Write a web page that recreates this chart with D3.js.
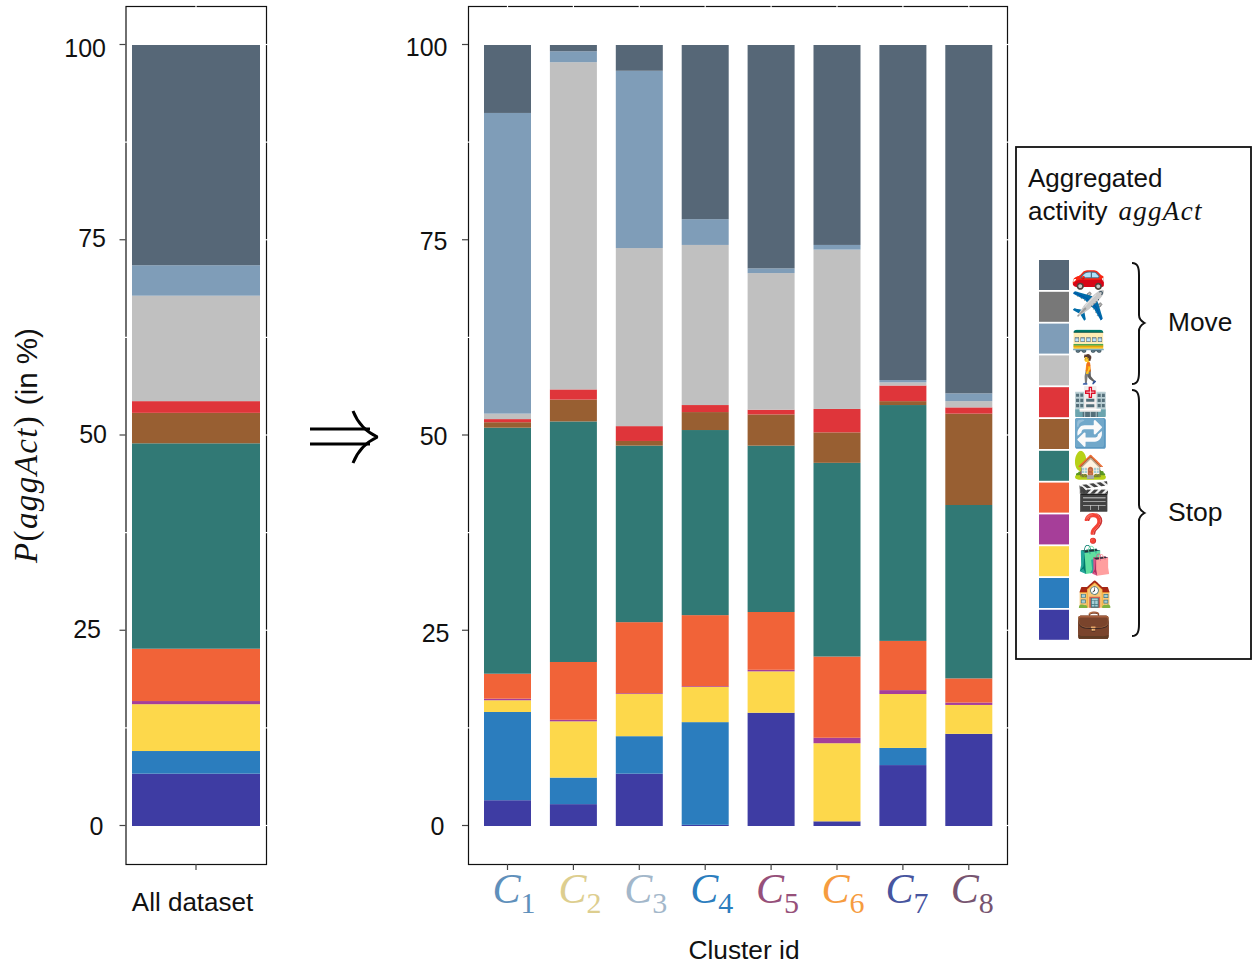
<!DOCTYPE html>
<html><head><meta charset="utf-8">
<script src="https://cdn.jsdelivr.net/npm/d3@7"></script>
<style>html,body{margin:0;padding:0;background:#fff}svg{display:block}</style>
</head><body><svg id="c" width="1253" height="969"></svg>
<script>
const activities=["work","school","shopping","unknown","leisure","home","other","health","walk","tram","plane","car"];
const colors=["#3E3CA3","#2B7DBE","#FDD84B","#A63E99","#F16338","#317975","#985F32","#DF353A","#C0C0C0","#7F9DB8","#787878","#566777"];
const emojis=["💼","🏫","🛍️","❓","🎬","🏡","🔁","🏥","🚶","🚃","✈️","🚗"];
const ticks=[0,25,50,75,100];
const minorTicks=[12.5,37.5,62.5,87.5];
const clusterIds=["1","2","3","4","5","6","7","8"];
const clusterColors=["#5F90BB","#DDCE8F","#A3B7CA","#2B7DBE","#96507A","#F69C3F","#47559F","#775470"];
// Cumulative share (%) at the top of each activity, bottom to top
const allDataset=[6.7,9.6,15.6,16.0,22.7,49.0,52.9,54.4,67.9,71.8,71.8,100];
const c1=[3.3,14.6,16.1,16.3,19.5,51.0,51.7,52.1,52.8,91.3,91.3,100];
const c2=[2.8,6.2,13.4,13.6,21.0,51.8,54.6,55.9,97.8,99.2,99.2,100];
const c3=[6.7,11.5,16.9,17.0,26.1,48.7,49.3,51.2,74.0,96.7,96.7,100];
const c4=[0.15,13.3,17.8,17.9,27.0,50.7,53.0,53.9,74.4,77.7,77.7,100];
const c5=[14.5,14.5,19.8,20.0,27.4,48.7,52.7,53.3,70.8,71.4,71.4,100];
const c6=[0.6,0.6,10.6,11.3,21.7,46.5,50.4,53.4,73.8,74.4,74.4,100];
const c7=[7.8,10.0,16.9,17.4,23.7,53.9,54.4,56.4,56.8,57.1,57.1,100];
const c8=[11.8,11.8,15.5,15.8,18.9,41.1,52.8,53.6,54.4,55.4,55.4,100];
const clusters=[c1,c2,c3,c4,c5,c6,c7,c8];

// layout of the tick labels, which sit slightly off the ticks in the reference
const leftLabelRight=[103.5,101,107,106,106], leftLabelBase=[835,638,443,247,57];
const rightLabelRight=[444.5,449.5,447.5,447.5,447.5], rightLabelBase=[835,641.5,445,250,56];
const clusterLabelDx=[-15,-15,-15,-15,-15,-15.5,-17.5,-18];
const emojiX=[1094,1095,1095,1094,1094,1091,1091,1091,1090,1089,1089,1089];

const svg=d3.select("#c");
const SANS="'Liberation Sans',Arial,sans-serif", MATH="'Liberation Serif',serif";

function stack(g,tops,x,w,y){
  let prev=0;
  tops.forEach((t,i)=>{
    if(t>prev) g.append("rect").attr("x",x).attr("width",w).attr("y",y(t)).attr("height",y(prev)-y(t)).attr("fill",colors[i]);
    prev=t;
  });
}
function frame(x0,x1,top,bottom,y,xTicks,labelRight,labelBase){
  svg.append("rect").attr("x",x0+.5).attr("y",top+.5).attr("width",x1-x0).attr("height",bottom-top).attr("fill","none").attr("stroke","#111").attr("stroke-width",1.2);
  ticks.forEach((t,i)=>{
    svg.append("line").attr("x1",x0-6).attr("x2",x0).attr("y1",y(t)-.5).attr("y2",y(t)-.5).attr("stroke","#444").attr("stroke-width",1.2);
    svg.append("line").attr("x1",x1-1).attr("x2",x1+2).attr("y1",y(t)-.5).attr("y2",y(t)-.5).attr("stroke","#fff").attr("stroke-width",1.2);
    svg.append("text").attr("x",labelRight[i]).attr("y",labelBase[i]).attr("text-anchor","end").attr("font-family",SANS).attr("font-size",25).attr("fill","#111").text(t);
  });
  minorTicks.forEach(t=>{
    [x0,x1].forEach(x=>svg.append("line").attr("x1",x-1).attr("x2",x+2).attr("y1",y(t)-.5).attr("y2",y(t)-.5).attr("stroke","#fff").attr("stroke-width",1.2));
  });
  xTicks.forEach(x=>{
    svg.append("line").attr("x1",x).attr("x2",x).attr("y1",bottom).attr("y2",bottom+6).attr("stroke","#444").attr("stroke-width",1.2);
    svg.append("line").attr("x1",x).attr("x2",x).attr("y1",top-1).attr("y2",top+2).attr("stroke","#fff").attr("stroke-width",1.2);
  });
}
const yL=d3.scaleLinear().domain([0,100]).range([826,45]);
const yR=d3.scaleLinear().domain([0,100]).range([826,45]);

// left panel
stack(svg.append("g"),allDataset,132,128,yL);
frame(125.5,266,6,864,yL,[196],leftLabelRight,leftLabelBase);
svg.append("text").attr("x",192.5).attr("y",911).attr("text-anchor","middle").attr("font-family",SANS).attr("font-size",26).attr("fill","#111").text("All dataset");

// right panel
const xB=d3.scaleBand().domain(clusterIds).range([484,992.3]).paddingInner(0.2868).paddingOuter(0);
clusters.forEach((c,i)=>stack(svg.append("g"),c,xB(clusterIds[i]),xB.bandwidth(),yR));
frame(468,1007,6,864,yR,clusterIds.map(d=>xB(d)+xB.bandwidth()/2),rightLabelRight,rightLabelBase);
clusterIds.forEach((d,i)=>{
  const cx=xB(d)+xB.bandwidth()/2;
  const t=svg.append("text").attr("x",cx+clusterLabelDx[i]).attr("y",903).attr("font-family",MATH).attr("fill",clusterColors[i]);
  t.append("tspan").attr("font-style","italic").attr("font-size",42).text("C");
  t.append("tspan").attr("font-size",30).attr("dy",10).text(d);
});
svg.append("text").attr("x",744).attr("y",959).attr("text-anchor","middle").attr("font-family",SANS).attr("font-size",26.3).attr("fill","#111").text("Cluster id");

// y title
const yt=svg.append("text").attr("transform","translate(37,563) rotate(-90)").attr("fill","#111").attr("font-size",33);
yt.append("tspan").attr("font-family",MATH).attr("font-style","italic").attr("letter-spacing",1.4).text("P");
yt.append("tspan").attr("font-family",MATH).attr("letter-spacing",1.4).text("(");
yt.append("tspan").attr("font-family",MATH).attr("font-style","italic").attr("letter-spacing",1.4).text("aggAct");
yt.append("tspan").attr("font-family",MATH).text(")");
yt.append("tspan").attr("font-family",SANS).attr("font-size",29.5).attr("dx",11).text("(in %)");

// implies arrow
const ar=svg.append("g").attr("fill","none").attr("stroke","#000").attr("stroke-width",3);
ar.append("line").attr("x1",310).attr("x2",370).attr("y1",429).attr("y2",429);
ar.append("line").attr("x1",310).attr("x2",370).attr("y1",444).attr("y2",444);
ar.append("path").attr("stroke-linejoin","bevel").attr("d","M353,411 Q360,429 377.5,437 Q360,445 353,463");

// legend
svg.append("rect").attr("x",1016).attr("y",147).attr("width",235).attr("height",512).attr("fill","#fff").attr("stroke","#111").attr("stroke-width",1.8);
svg.append("text").attr("x",1028).attr("y",187).attr("font-family",SANS).attr("font-size",26).attr("fill","#111").text("Aggregated");
const l2=svg.append("text").attr("x",1028).attr("y",220).attr("fill","#111");
l2.append("tspan").attr("font-family",SANS).attr("font-size",26).text("activity");
l2.append("tspan").attr("font-family",MATH).attr("font-style","italic").attr("font-size",27).attr("dx",11).attr("letter-spacing",1.3).text("aggAct");
activities.slice().reverse().forEach((a,k)=>{
  const i=11-k, ly=260+k*31.8;
  svg.append("rect").attr("x",1039).attr("y",ly).attr("width",30).attr("height",30).attr("fill",colors[i]);
  const e=svg.append("text").attr("x",emojiX[i]).attr("y",ly+23.5).attr("text-anchor","middle").attr("font-size",28).attr("font-family","'Noto Color Emoji','Noto Sans',sans-serif").text(emojis[i]);
  if(a==="other") e.style("filter","hue-rotate(175deg) saturate(0.45)");
});
const brace=(top,mid,bot)=>`M1132,${top} C1138,${top} 1139,${top+5} 1139,${top+12} L1139,${mid-8} C1139,${mid-4} 1141,${mid-2} 1144.5,${mid} C1141,${mid+2} 1139,${mid+4} 1139,${mid+8} L1139,${bot-12} C1139,${bot-5} 1138,${bot} 1132,${bot}`;
svg.append("path").attr("d",brace(263,323,384)).attr("fill","none").attr("stroke","#111").attr("stroke-width",2);
svg.append("path").attr("d",brace(390,513,636)).attr("fill","none").attr("stroke","#111").attr("stroke-width",2);
svg.append("text").attr("x",1168).attr("y",331).attr("font-family",SANS).attr("font-size",26.3).attr("fill","#111").text("Move");
svg.append("text").attr("x",1168).attr("y",521).attr("font-family",SANS).attr("font-size",26.5).attr("fill","#111").text("Stop");
</script></body></html>
